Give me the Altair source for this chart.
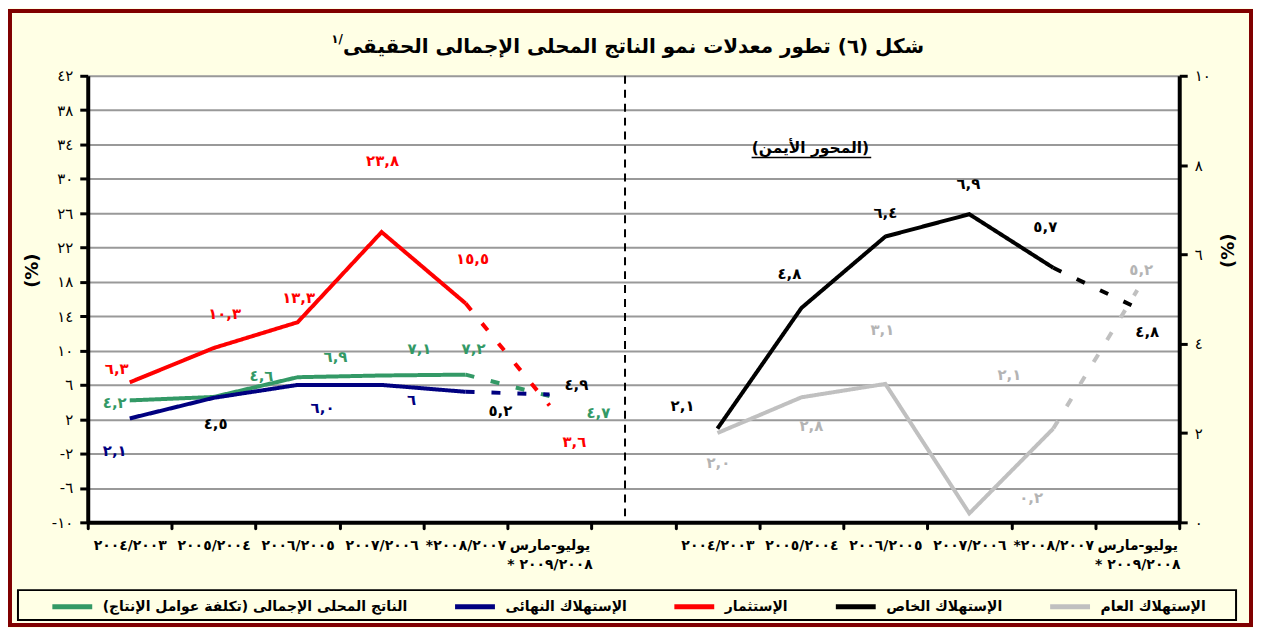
import altair as alt
import pandas as pd

AR_DIGITS = str.maketrans("0123456789", "٠١٢٣٤٥٦٧٨٩")


def ar(x):
    return str(x).translate(AR_DIGITS)


RLM = "\u200f"

# ---------------- categories ----------------
left_keys = ["L0", "L1", "L2", "L3", "L4", "L5"]
right_keys = ["R0", "R1", "R2", "R3", "R4", "R5"]
gap_key = "gap"
x_domain = left_keys + [gap_key] + right_keys
period_labels = ["٢٠٠٤/٢٠٠٣", "٢٠٠٥/٢٠٠٤", "٢٠٠٦/٢٠٠٥", "٢٠٠٧/٢٠٠٦", "*٢٠٠٨/٢٠٠٧",
                 "يوليو-مارس|* ٢٠٠٩/٢٠٠٨"]

# ---------------- series ----------------
name_gdp = RLM + "الناتج المحلى الإجمالى (تكلفة عوامل الإنتاج)" + RLM
name_final = "الإستهلاك النهائى"
name_inv = "الإستثمار"
name_priv = "الإستهلاك الخاص"
name_pub = "الإستهلاك العام"
series_names = [name_gdp, name_final, name_inv, name_priv, name_pub]
series_colors = ["#339966", "#000080", "#FF0000", "#000000", "#C0C0C0"]

# left axis series
gdp_values = [4.2, 4.6, 6.9, 7.1, 7.2, 4.7]
final_values = [2.1, 4.5, 6.0, 6.0, 5.2, 4.9]
inv_values = [6.3, 10.3, 13.3, 23.8, 15.5, 3.6]
# right axis series
priv_values = [2.1, 4.8, 6.4, 6.9, 5.7, 4.8]
pub_values = [2.0, 2.8, 3.1, 0.2, 2.1, 5.2]

# data labels (text, where it sits in axis units, horizontal nudge in px, colour)
inv_text = ["٦,٣", "١٠,٣", "١٣,٣", "٢٣,٨", "١٥,٥", "٣,٦"]
inv_label_at = [7.8, 14.3, 16.1, 32.1, 20.7, -0.6]
inv_label_dx = [-13, 11, 1, 1, 7, 25]
inv_label_color = ["#FF0000"] * 6

gdp_text = ["٤,٢", "٤,٦", "٦,٩", "٧,١", "٧,٢", "٤,٧"]
gdp_label_at = [3.9, 7.0, 9.3, 10.2, 10.2, 2.7]
gdp_label_dx = [-15, 48, 38, 38, 8, 49]
gdp_label_color = ["#339966"] * 6

final_text = ["٢,١", "٤,٥", "٦,٠", "٦", "٥,٢", "٤,٩"]
final_label_at = [-1.7, 1.4, 3.3, 4.3, 3.0, 6.0]
final_label_dx = [-15, 2, 25, 30, 35, 27]
final_label_color = ["#000080", "#000000", "#000080", "#000080", "#000000", "#000000"]

priv_text = ["٢,١", "٤,٨", "٦,٤", "٦,٩", "٥,٧", "٤,٨"]
priv_label_at = [2.6, 5.55, 6.93, 7.58, 6.61, 4.27]
priv_label_dx = [-35, -12, 0, -1, -8, 10]
priv_label_color = ["#000000"] * 6

pub_text = ["٢,٠", "٢,٨", "٣,١", "٠,٢", "٢,١", "٥,٢"]
pub_label_at = [1.33, 2.15, 4.31, 0.55, 3.3, 5.65]
pub_label_dx = [1, 10, -3, 62, -44, 4]
pub_label_color = ["#B4B4B4"] * 6

left_ticks = [-10, -6, -2, 2, 6, 10, 14, 18, 22, 26, 30, 34, 38, 42]
right_ticks = [0, 2, 4, 6, 8, 10]

title_text = RLM + "شكل (٦) تطور معدلات نمو الناتج المحلى الإجمالى الحقيقى" + RLM
footnote_mark = "١/"
right_note = "(المحور الأيمن)"

# ---------------- tables ----------------


def line_rows(name, keys, values):
    rows = []
    for i in range(5):
        rows.append({"s": name, "k": keys[i], "v": values[i], "seg": "solid"})
    for i in (4, 5):
        rows.append({"s": name, "k": keys[i], "v": values[i], "seg": "dashed"})
    return rows


def label_rows(keys, texts, at, dx, colors):
    return [{"k": k, "ly": a, "t": t, "dx": d, "c": c}
            for k, t, a, d, c in zip(keys, texts, at, dx, colors)]


left_lines_df = pd.DataFrame(
    line_rows(name_gdp, left_keys, gdp_values)
    + line_rows(name_final, left_keys, final_values)
    + line_rows(name_inv, left_keys, inv_values))
right_lines_df = pd.DataFrame(
    line_rows(name_priv, right_keys, priv_values)
    + line_rows(name_pub, right_keys, pub_values))

left_labels_df = pd.DataFrame(
    label_rows(left_keys, inv_text, inv_label_at, inv_label_dx, inv_label_color)
    + label_rows(left_keys, gdp_text, gdp_label_at, gdp_label_dx, gdp_label_color)
    + label_rows(left_keys, final_text, final_label_at, final_label_dx, final_label_color))
right_labels_df = pd.DataFrame(
    label_rows(right_keys, priv_text, priv_label_at, priv_label_dx, priv_label_color)
    + label_rows(right_keys, pub_text, pub_label_at, pub_label_dx, pub_label_color))

one_row = pd.DataFrame({"a": [0]})

# ---------------- label expressions ----------------


def x_label_expr():
    parts = []
    for keys in (left_keys, right_keys):
        for k, lab in zip(keys, period_labels):
            if "|" in lab:
                s = "[" + ",".join("'" + p + "'" for p in lab.split("|")) + "]"
            else:
                s = "'" + lab + "'"
            parts.append(f"datum.value == '{k}' ? {s} : ")
    return "".join(parts) + "''"


def y_label_expr(ticks):
    parts = [f"datum.value == {t} ? '{ar(t)}' : " for t in ticks]
    return "".join(parts) + "''"


W, H = 1095, 448
FONT = "DejaVu Sans"

x_axis = alt.Axis(orient="bottom", title=None, tickBand="extent", tickSize=6, tickWidth=3,
                  tickColor="black", tickCap="round", domainColor="black", domainWidth=4,
                  labelExpr=x_label_expr(), labelFont=FONT, labelFontWeight="bold",
                  labelFontSize=14, labelColor="black", labelPadding=10, labelAngle=0,
                  labelLineHeight=19, grid=False, labelLimit=200)
x_enc = alt.X("k:N", scale=alt.Scale(type="band", domain=x_domain, paddingInner=0, paddingOuter=0),
              axis=x_axis)

left_axis = alt.Axis(orient="left", values=left_ticks, labelExpr=y_label_expr(left_ticks),
                     tickSize=8, tickWidth=3, tickColor="black", domainColor="black", domainWidth=4,
                     grid=True, gridColor="#999999", gridWidth=2, labelFont=FONT, labelFontSize=15,
                     labelColor="black", labelPadding=7, title="(%)", titleFont=FONT,
                     titleFontSize=18, titleFontWeight="bold", titleColor="black", titleAngle=270,
                     titleX=-55, titleY=195, titleAlign="center", titleBaseline="middle")
right_axis = alt.Axis(orient="right", values=right_ticks, labelExpr=y_label_expr(right_ticks),
                      tickSize=8, tickWidth=3, tickColor="black", domainColor="black", domainWidth=4,
                      grid=False, labelFont=FONT, labelFontSize=15, labelColor="black",
                      labelPadding=7, title="(%)", titleFont=FONT, titleFontSize=18,
                      titleFontWeight="bold", titleColor="black", titleAngle=270,
                      titleX=49, titleY=175, titleAlign="center", titleBaseline="middle")

legend = alt.Legend(title=None, orient="none", legendX=-38, legendY=510, direction="horizontal",
                    columns=5, symbolType="stroke", symbolStrokeWidth=5, symbolSize=1600,
                    labelFont=FONT, labelFontSize=14, labelFontWeight="bold", labelColor="black",
                    labelLimit=0, columnPadding=37, labelOffset=8)
color_enc = alt.Color("s:N", scale=alt.Scale(domain=series_names, range=series_colors), legend=legend)
dash_enc = alt.StrokeDash("seg:N", scale=alt.Scale(domain=["solid", "dashed"], range=[[1, 0], [9, 17]]),
                          legend=None)

left_y = alt.Y("v:Q", scale=alt.Scale(domain=[-10, 42], nice=False, zero=False), axis=left_axis)
right_y = alt.Y("v:Q", scale=alt.Scale(domain=[0, 10], nice=False, zero=False), axis=right_axis)

left_lines = alt.Chart(left_lines_df).mark_line(strokeWidth=4, strokeCap="butt").encode(
    x=x_enc, y=left_y, color=color_enc, strokeDash=dash_enc)
right_lines = alt.Chart(right_lines_df).mark_line(strokeWidth=4, strokeCap="butt").encode(
    x=x_enc, y=right_y, color=color_enc, strokeDash=dash_enc)

half_band = W / len(x_domain) / 2

left_text = alt.Chart(left_labels_df).transform_calculate(off=f"datum.dx + {half_band}").mark_text(
    font=FONT, fontWeight="bold", fontSize=15, align="center", baseline="middle").encode(
    x=x_enc, xOffset=alt.XOffset("off:Q", scale=None),
    y=alt.Y("ly:Q", scale=alt.Scale(domain=[-10, 42], nice=False, zero=False), axis=left_axis),
    text="t:N", fill=alt.Fill("c:N", scale=None))
right_text = alt.Chart(right_labels_df).transform_calculate(off=f"datum.dx + {half_band}").mark_text(
    font=FONT, fontWeight="bold", fontSize=15, align="center", baseline="middle").encode(
    x=x_enc, xOffset=alt.XOffset("off:Q", scale=None),
    y=alt.Y("ly:Q", scale=alt.Scale(domain=[0, 10], nice=False, zero=False), axis=right_axis),
    text="t:N", fill=alt.Fill("c:N", scale=None))

left_group = alt.layer(left_lines, left_text)
right_group = alt.layer(right_lines, right_text)

divider = alt.Chart(one_row).mark_rule(strokeDash=[8, 6], strokeWidth=2, color="black").encode(
    x=alt.value(539), y=alt.value(0), y2=alt.value(H))
border = alt.Chart(one_row).mark_rect(fillOpacity=0, stroke="#800000", strokeWidth=4).encode(
    x=alt.value(-78), x2=alt.value(W + 72), y=alt.value(-65), y2=alt.value(H + 103))
legend_frame = alt.Chart(one_row).mark_rect(fillOpacity=0, stroke="black", strokeWidth=2).encode(
    x=alt.value(-70), x2=alt.value(1152), y=alt.value(516), y2=alt.value(546))
note = alt.Chart(one_row).mark_text(text=right_note, font=FONT, fontWeight="bold", fontSize=15.5,
                                    color="black", baseline="middle").encode(
    x=alt.value(725), y=alt.value(72))
note_rule = alt.Chart(one_row).mark_rule(color="black", strokeWidth=1.5).encode(
    x=alt.value(666), x2=alt.value(786), y=alt.value(82))
title_mark = alt.Chart(one_row).mark_text(text=title_text, font=FONT, fontWeight="bold", fontSize=20,
                                          color="black", baseline="middle", align="center").encode(
    x=alt.value(W / 2), y=alt.value(-29))
sup = alt.Chart(one_row).mark_text(text=footnote_mark, font=FONT, fontWeight="bold", fontSize=12,
                                   color="black", baseline="middle", align="right").encode(
    x=alt.value(256), y=alt.value(-37))

chart = alt.layer(left_group, right_group, divider, legend_frame, note, note_rule, title_mark, sup,
                  border).resolve_scale(y="independent").properties(
    width=W, height=H,
    padding={"left": 80, "top": 67, "right": 74, "bottom": 105},
    autosize=alt.AutoSizeParams(type="none"),
    background="#FFFFE5",
).configure_view(stroke=None, fill="white")

chart.save("out.html", embed_options={"renderer": "svg", "actions": False})
